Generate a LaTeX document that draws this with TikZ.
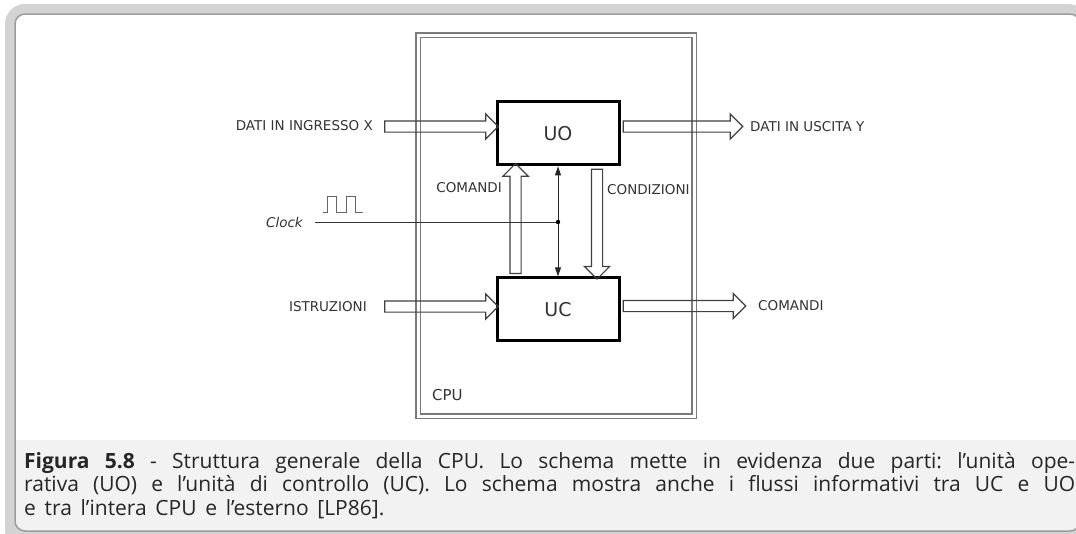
\documentclass[tikz,border=0pt]{standalone}
\usepackage{fontspec}
\setmainfont{DejaVu Sans}
\newfontfamily\capfont{Open Sans}[WordSpace=1.6]
\usepackage{xcolor}
\usepackage{tikz}
\usetikzlibrary{calc,arrows.meta,shapes.arrows}
\definecolor{framegray}{HTML}{D3D3D3}
\definecolor{edgegray}{HTML}{9C9C9C}
\definecolor{capbg}{HTML}{F2F2F2}
\definecolor{cpugray}{HTML}{7A7A7A}
\tikzset{
  unit/.style     = {draw, line width=3pt, minimum width=122pt, minimum height=63pt,
                     inner sep=0pt, font=\fontsize{19}{19}\selectfont, text=black!80},
  cpubox/.style   = {draw=cpugray, double, double distance=3pt, line width=1.1pt,
                     minimum width=276pt, minimum height=381pt, inner sep=0pt},
  lab/.style      = {font=\fontsize{13.5}{13.5}\selectfont, text=black!80, inner sep=0pt},
  bigarrow/.style = {single arrow, draw=black!75, line width=1.2pt, minimum width=24pt,
                     single arrow head extend=7pt, inner xsep=0pt, inner ysep=5pt,
                     outer sep=0pt},
  flow/.style     = {to path={let \p1=($(\tikztotarget)-(\tikztostart)$),
                     \n1={veclen(\x1,\y1)} in (\tikztostart) -- node[bigarrow, sloped,
                     allow upside down, minimum height=\n1] {} (\tikztotarget)}},
  sig/.style      = {{Triangle[length=9pt,width=6pt]}-{Triangle[length=9pt,width=6pt]},
                     line width=0.9pt, black!85},
  capline/.style  = {anchor=base west, inner sep=0pt, text=black!85,
                     font=\capfont\fontsize{21}{21}\selectfont},
}

\begin{document}
\frenchspacing
\begin{tikzpicture}[x=1pt, y=-1pt]
  \useasboundingbox (0,0) rectangle (1076,533);
  % frame round the figure
  \fill[framegray, rounded corners=20pt] (5,4) rectangle (1088,550);
  \fill[white, rounded corners=10pt] (15,14) rectangle (1080,531);
  \begin{scope}
    \clip[rounded corners=10pt] (15,14) rectangle (1080,531);
    \fill[capbg] (15,440) rectangle (1080,531);
  \end{scope}
  \draw[edgegray, line width=1.5pt, rounded corners=10pt] (15,14) rectangle (1080,531);

  % CPU with its two units
  \node[cpubox] (cpu) at (556,225.5) {};
  \node[unit] (uo) at (558,133.4) {UO};
  \node[unit] (uc) at (558,309.3) {UC};
  \node[lab, anchor=west, font=\fontsize{15}{15}\selectfont] (cpulab) at (432,395) {CPU};

  % inputs and outputs
  \coordinate (inx) at (382,126.5);
  \coordinate (outy) at (740,126.5);
  \coordinate (inistr) at (382,306.5);
  \coordinate (outcom) at (743,306);
  \node[lab, anchor=east] (datiin) at (373,126) {DATI IN INGRESSO X};
  \node[lab, anchor=west] (datiout) at (750,127) {DATI IN USCITA Y};
  \node[lab, anchor=east] (istr) at (367,307) {ISTRUZIONI};
  \node[lab, anchor=west] (comout) at (758,306) {COMANDI};
  \path[flow] (inx) to (inx -| uo.west);
  \path[flow] (outy -| uo.east) to (outy);
  \path[flow] (inistr) to (inistr -| uc.west);
  \path[flow] (outcom -| uc.east) to (outcom);

  % flows between UC and UO
  \coordinate (comx) at (515.5,0);
  \coordinate (condx) at (597,0);
  \path[flow] (uc.north -| comx) to (uo.south -| comx);
  \path[flow] (uo.south -| condx) to (uc.north -| condx);
  \node[lab, anchor=east] (comin) at (502,188) {COMANDI};
  \node[lab, anchor=west] (cond) at (607,190) {CONDIZIONI};
  \draw[sig] (uo.south) -- (uc.north);

  % clock
  \node[lab, anchor=east, font=\fontsize{13.5}{13.5}\selectfont\itshape] (clk) at (303,222) {Clock};
  \coordinate (ck) at (315,222);
  \coordinate (jn) at (uo.south |- ck);
  \draw[black!80, line width=0.9pt] (ck) -- (jn);
  \fill[black] (jn) circle (2.2pt);
  \draw[black!60, line width=0.9pt] (322.7,212.3) -- (327,212.3) -- (327,196.7) -- (336.7,196.7)
    -- (336.7,212.3) -- (346.7,212.3) -- (346.7,196.7) -- (355,196.7) -- (355,212.3) -- (363,212.3);

  % caption
  \node[capline] (cap1) at (24,468) {\makebox[1051pt][s]{\textbf{Figura 5.8} - Struttura generale della CPU. Lo schema mette in evidenza due parti: l’unità ope-}};
  \node[capline] (cap2) at (24,491.7) {\makebox[1051pt][s]{rativa (UO) e l’unità di controllo (UC). Lo schema mostra anche i flussi informativi tra UC e UO}};
  \node[capline] (cap3) at (24,515) {e tra l’intera CPU e l’esterno [LP86].};
\end{tikzpicture}
\end{document}
